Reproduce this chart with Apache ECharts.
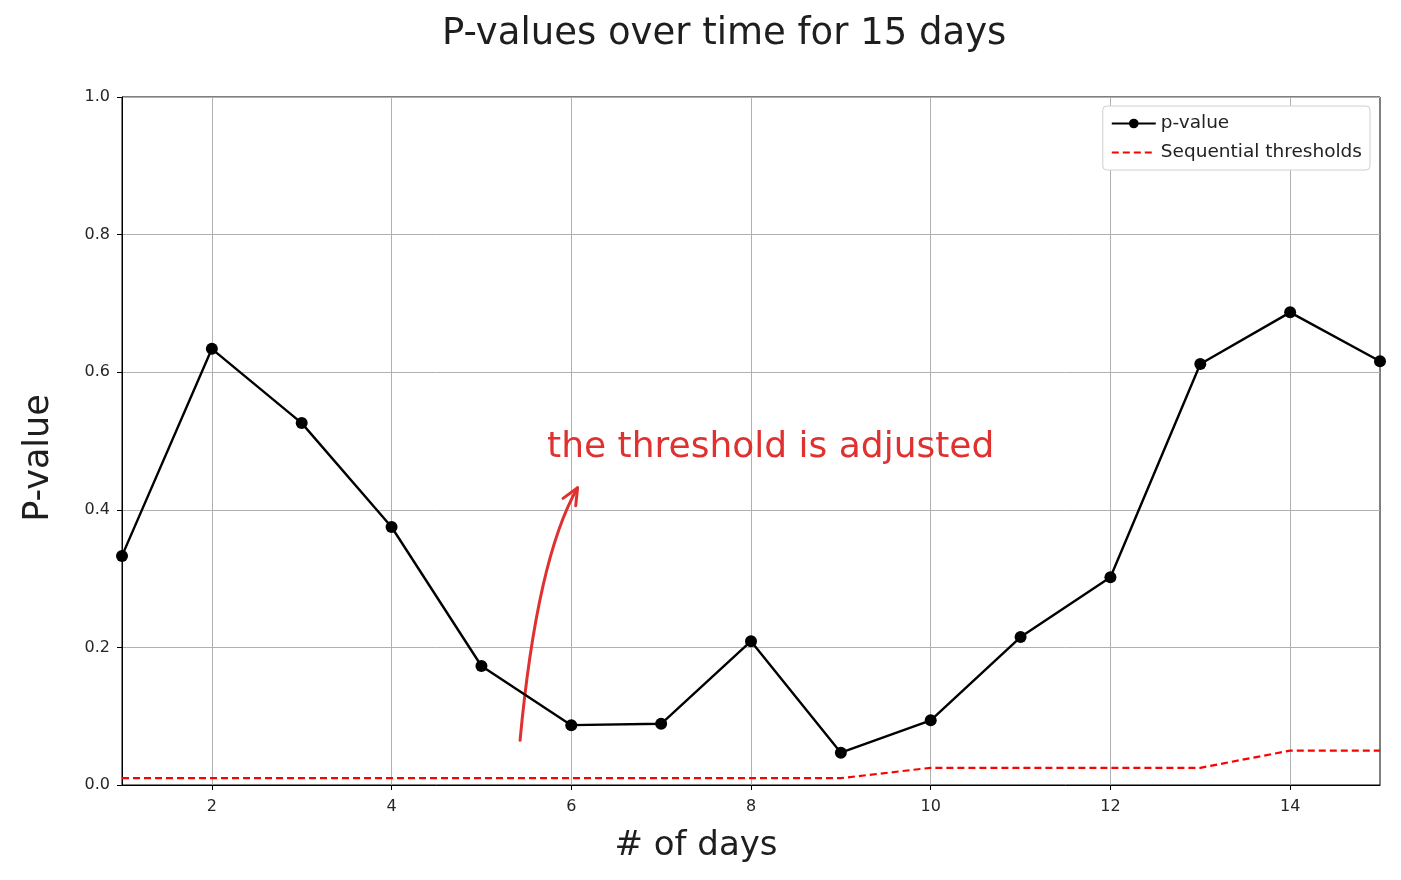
<!DOCTYPE html>
<html><head><meta charset="utf-8">
<script src="https://cdn.jsdelivr.net/npm/echarts@6/dist/echarts.min.js"></script>
<style>html,body{margin:0;padding:0;background:#fff}#c{width:1401px;height:880px}</style>
</head><body><div id="c"></div>
<script>
const days = [1,2,3,4,5,6,7,8,9,10,11,12,13,14,15];
const pValues = [0.333,0.634,0.526,0.375,0.173,0.087,0.089,0.209,0.047,0.094,0.215,0.302,0.612,0.687,0.616];
const thresholds = [0.01,0.01,0.01,0.01,0.01,0.01,0.01,0.01,0.01,0.025,0.025,0.025,0.025,0.05,0.05];
const xTicks = [2,4,6,8,10,12,14];
const yTicks = [0,0.2,0.4,0.6,0.8,1.0];
const annotationText = 'the threshold is adjusted';
// annotation anchors in data coordinates
const annText = [5.73, 0.484];
const arrowTail = [5.43, 0.065];
const arrowCtrl = [5.62, 0.33];
const arrowHead = [6.07, 0.432];

const hand = '"DejaVu Sans", sans-serif';
const tickFont = '"DejaVu Sans", sans-serif';
const chart = echarts.init(document.getElementById('c'));
chart.setOption({
  animation: false,
  backgroundColor: '#fff',
  title: {text: 'P-values over time for 15 days', left: 437, top: 11,
    textStyle: {fontFamily: hand, fontSize: 37, fontWeight: 'normal', color: '#1e1e1e'}},
  grid: {left: 122, right: 21, top: 97, bottom: 95, show: true, borderColor: '#000', borderWidth: 1, containLabel: false},
  legend: {right: 31, top: 106, orient: 'vertical', itemGap: 10, itemWidth: 44, itemHeight: 12,
    backgroundColor: '#fff', borderColor: '#d0d0d0', borderWidth: 1, borderRadius: 4, padding: [8, 8, 8, 8],
    textStyle: {fontFamily: tickFont, fontSize: 18.5, color: '#222'},
    data: [{name: 'p-value'}, {name: 'Sequential thresholds', itemStyle: {opacity: 0}}]},
  xAxis: {type: 'value', min: 1, max: 15,
    name: '# of days', nameLocation: 'middle', nameGap: 44,
    nameTextStyle: {fontFamily: hand, fontSize: 34, color: '#1e1e1e', padding: [0, 110, 0, 0]},
    axisLine: {show: true, onZero: false, lineStyle: {color: '#000', width: 1}},
    axisTick: {show: true, customValues: xTicks, length: 5, lineStyle: {color: '#000'}},
    axisLabel: {customValues: xTicks, fontFamily: tickFont, fontSize: 16, color: '#262626', margin: 14},
    splitLine: {show: true, lineStyle: {color: '#b0b0b0', width: 1}}},
  yAxis: {type: 'value', min: 0, max: 1, interval: 0.2,
    name: 'P-value', nameLocation: 'middle', nameGap: 66, nameRotate: 90,
    nameTextStyle: {fontFamily: hand, fontSize: 35, color: '#1e1e1e', padding: [0, 34, 0, 0]},
    axisLine: {show: true, lineStyle: {color: '#000', width: 1}},
    axisTick: {show: true, length: 5, lineStyle: {color: '#000'}},
    axisLabel: {fontFamily: tickFont, fontSize: 16, color: '#262626', margin: 12,
      formatter: v => v.toFixed(1)},
    splitLine: {show: true, lineStyle: {color: '#b0b0b0', width: 1}}},
  series: [
    {name: 'p-value', type: 'line', data: days.map((d,i)=>[d,pValues[i]]),
      symbol: 'circle', symbolSize: 12, clip: false,
      lineStyle: {color: '#000', width: 2.4}, itemStyle: {color: '#000'}, z: 5},
    {name: 'Sequential thresholds', type: 'line', data: days.map((d,i)=>[d,thresholds[i]]),
      symbol: 'none', lineStyle: {color: '#ff0000', width: 2.2, type: [7, 4]}, itemStyle: {color: '#ff0000'}, z: 4}
  ]
});
const P = p => chart.convertToPixel({gridIndex: 0}, p);
const t = P(annText), a0 = P(arrowTail), c = P(arrowCtrl), a1 = P(arrowHead);
const ang = Math.atan2(a1[1]-c[1], a1[0]-c[0]);
const L = 18, spread = 0.42;
const b1 = [a1[0]-L*Math.cos(ang-spread), a1[1]-L*Math.sin(ang-spread)];
const b2 = [a1[0]-L*Math.cos(ang+spread), a1[1]-L*Math.sin(ang+spread)];
const red = '#e03131';
chart.setOption({graphic: [
  {type: 'text', left: t[0], top: t[1]-22, style: {text: annotationText, fill: red, font: '36px ' + hand}},
  {type: 'bezierCurve', shape: {x1: a0[0], y1: a0[1], x2: a1[0], y2: a1[1], cpx1: c[0], cpy1: c[1]},
    style: {stroke: red, lineWidth: 3, fill: null, lineCap: 'round'}},
  {type: 'polyline', shape: {points: [b1, a1, b2]}, style: {stroke: red, lineWidth: 3, fill: null, lineCap: 'round', lineJoin: 'round'}}
]});
</script></body></html>
